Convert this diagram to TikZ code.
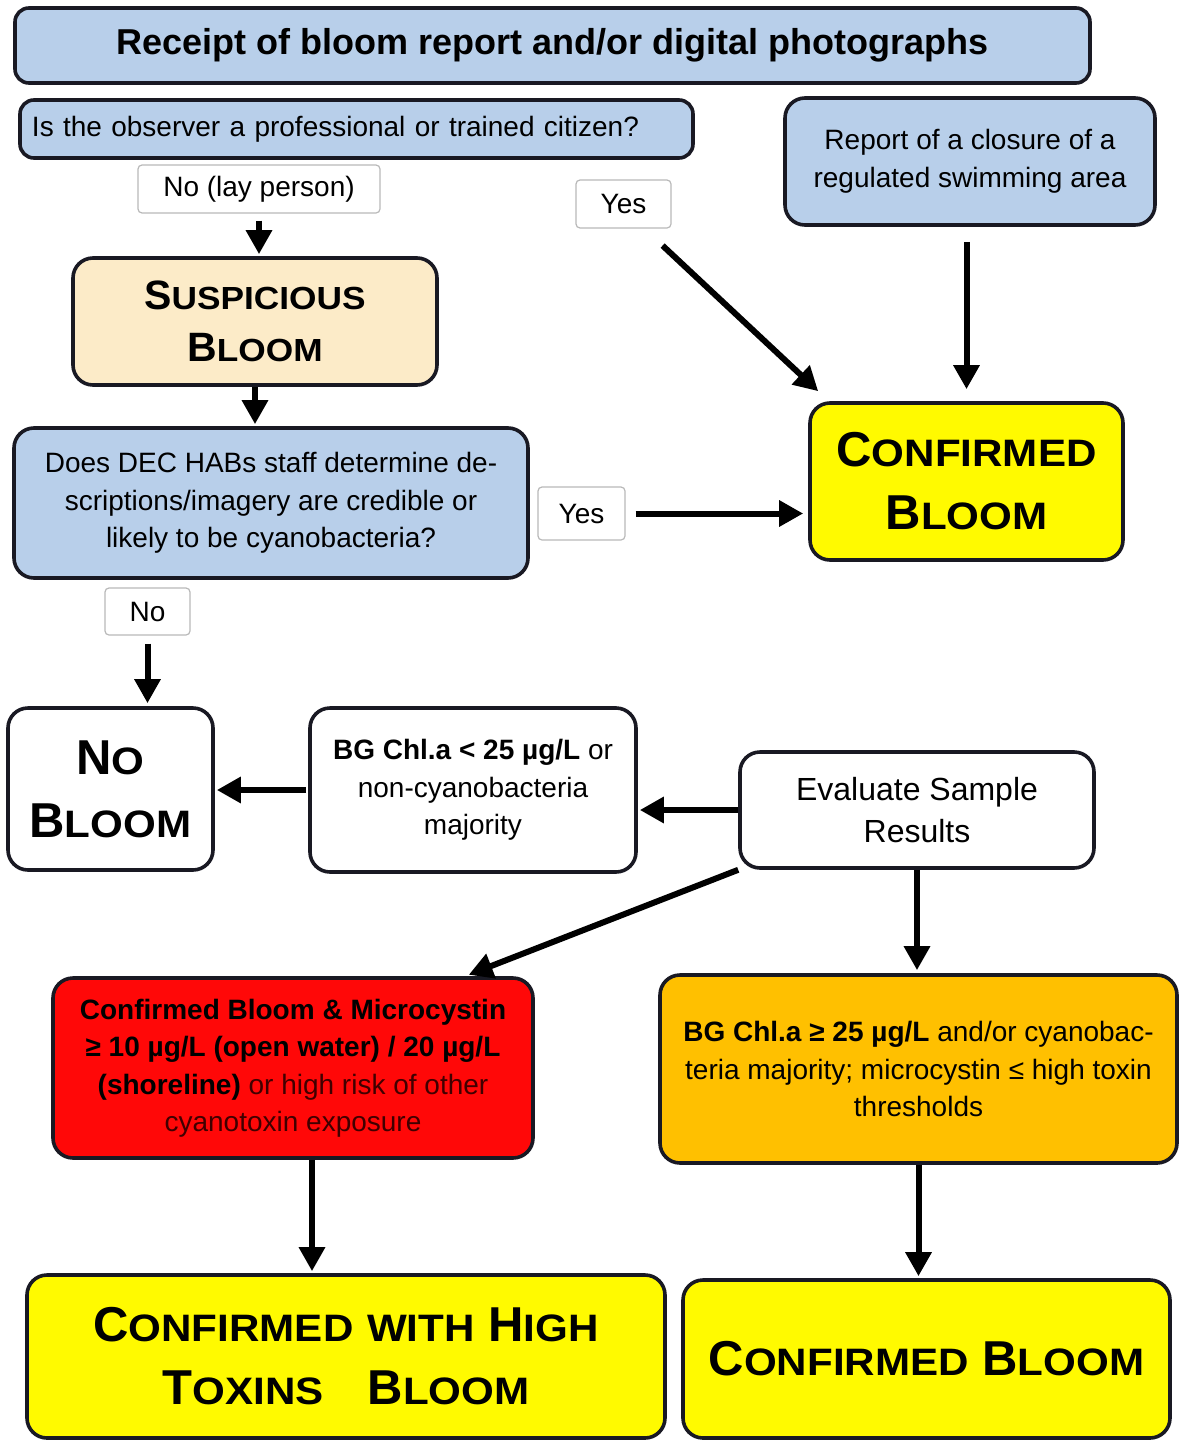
\documentclass[tikz,border=0pt]{standalone}
\usepackage{fontspec}
\setmainfont{Liberation Sans}
\usetikzlibrary{arrows.meta,positioning,calc}
\definecolor{habblue}{RGB}{184,207,234}
\definecolor{habbeige}{RGB}{252,235,200}
\definecolor{habyellow}{RGB}{255,250,0}
\definecolor{haborange}{RGB}{255,192,0}
\definecolor{habred}{RGB}{255,8,8}
\definecolor{habline}{RGB}{25,25,35}
\newcommand\smcap[2]{#1\scalebox{0.86}[0.78]{#2}}
\newcommand\smlow[1]{\scalebox{0.86}[0.78]{#1}}

\begin{document}
\begin{tikzpicture}[x=0.5pt,y=-0.5pt,
      box/.style={draw=habline,line width=1.8pt,rounded corners=10pt,
                  align=center,inner sep=4pt,
                  font=\fontsize{14}{18.75}\selectfont},
      tag/.style={draw=gray!55,line width=0.6pt,rounded corners=2pt,
                  fill=white,align=center,inner sep=2pt,
                  font=\fontsize{14}{18}\selectfont},
      verdict/.style={box,font=\bfseries\fontsize{24.5}{31.5}\selectfont},
      arrow/.style={-{Triangle[length=12pt,width=12.5pt]},line width=3pt},
    ]
    \useasboundingbox (0,0) rectangle (1180,1440);

    % Intake
    \node[box,fill=habblue,rounded corners=7pt,minimum width=537.5pt,
          minimum height=37.5pt,font=\bfseries\fontsize{18}{22}\selectfont]
      (receipt) at (552.5,45.5)
      {Receipt of bloom report and/or digital photographs};
    \node[box,fill=habblue,rounded corners=7pt,minimum height=29pt,
          text width=324.5pt,align=left,inner sep=6pt]
      (observer) at (356.5,129)
      {Is the observer a professional or trained citizen?};
    \node[box,fill=habblue,minimum width=185pt,minimum height=63.5pt]
      (closure) at (970,161.5)
      {Report of a closure of a\\regulated swimming area};

    % Answer tags
    \node[tag,minimum width=121pt,minimum height=24pt] (noLay) at (259,189)
      {No (lay person)};
    \node[tag,minimum width=47.5pt,minimum height=24pt] (yesTop) at (623.5,204)
      {Yes};
    \node[tag,minimum width=43.5pt,minimum height=26.5pt] (yesMid) at (581.5,513.5)
      {Yes};
    \node[tag,minimum width=42.5pt,minimum height=23.5pt] (noLbl) at (147.5,611.5)
      {No};

    % Screening
    \node[verdict,fill=habbeige,minimum width=182pt,minimum height=63.5pt,
          font=\bfseries\fontsize{20.5}{26}\selectfont]
      (susp) at (255,321.5) {\smcap{S}{USPICIOUS}\\\smcap{B}{LOOM}};
    \node[box,fill=habblue,minimum width=257pt,minimum height=75pt]
      (dec) at (271,503)
      {Does DEC HABs staff determine de-\\scriptions/imagery are credible or\\likely to be cyanobacteria?};
    \node[verdict,fill=habyellow,minimum width=156.5pt,minimum height=78.5pt]
      (confTop) at (966.5,481.5) {\smcap{C}{ONFIRMED}\\\smcap{B}{LOOM}};

    % Sampling
    \node[verdict,fill=white,minimum width=102.5pt,minimum height=81pt]
      (noBloom) at (110.5,789) {\smcap{N}{O}\\\smcap{B}{LOOM}};
    \node[box,fill=white,minimum width=163pt,minimum height=82pt]
      (bgLow) at (473,790)
      {\textbf{BG Chl.a < 25 µg/L} or\\non-cyanobacteria\\majority};
    \node[box,fill=white,minimum width=177pt,minimum height=58pt,
          font=\fontsize{16}{21}\selectfont]
      (evalRes) at (917,810) {Evaluate Sample\\Results};
    \node[box,fill=habred,minimum width=240pt,minimum height=90pt]
      (red) at (293,1068)
      {\textbf{Confirmed Bloom \& Microcystin}\\
       \textbf{≥ 10 µg/L (open water) / 20 µg/L}\\
       \textbf{(shoreline)} \textcolor{red!25!black}{or high risk of other}\\
       \textcolor{red!25!black}{cyanotoxin exposure}};
    \node[box,fill=haborange,minimum width=258.5pt,minimum height=94pt]
      (orange) at (918.5,1069)
      {\textbf{BG Chl.a ≥ 25 µg/L} and/or cyanobac-\\
       teria majority; microcystin ≤ high toxin\\thresholds};

    % Outcomes
    \node[verdict,fill=habyellow,minimum width=319pt,minimum height=81.5pt]
      (highTox) at (346,1356.5)
      {\smcap{C}{ONFIRMED} \smlow{WITH} \smcap{H}{IGH}\\
       \smcap{T}{OXINS}\hspace{0.9em}\smcap{B}{LOOM}};
    \node[verdict,fill=habyellow,minimum width=243.5pt,minimum height=79pt]
      (confBot) at (926.5,1359) {\smcap{C}{ONFIRMED} \smcap{B}{LOOM}};

    % Arrows
    \draw[arrow,shorten <=3.5pt,shorten >=1pt] (noLay.south) -- (noLay.south |- susp.north);
    \draw[arrow,shorten >=1pt] (susp.south) -- (susp.south |- dec.north);
    \draw[arrow] ([xshift=-4.5pt,yshift=-8.5pt]yesTop.south east)
      -- ([xshift=5pt,yshift=5pt]confTop.north west);
    \draw[arrow,shorten <=7.5pt,shorten >=6pt] (confTop.north |- closure.south) -- (confTop.north);
    \draw[arrow,shorten <=5pt,shorten >=2.5pt] (yesMid.east) -- (yesMid.east -| confTop.west);
    \draw[arrow,shorten <=4pt,shorten >=1.5pt] (noLbl.south) -- (noLbl.south |- noBloom.north);
    \draw[arrow,shorten <=1pt,shorten >=1pt] (bgLow.west) -- (bgLow.west -| noBloom.east);
    \draw[arrow,shorten >=1pt] (evalRes.west) -- (evalRes.west -| bgLow.east);
    \draw[arrow,shorten >=2pt] (evalRes.south west) -- ([xshift=86pt]red.north);
    \draw[arrow,shorten >=1.5pt] (evalRes.south) -- (evalRes.south |- orange.north);
    \draw[arrow,shorten >=1pt] ([xshift=9.5pt]red.south) -- ([xshift=9.5pt]red.south |- highTox.north);
    \draw[arrow,shorten >=1pt] (orange.south) -- (orange.south |- confBot.north);

  \end{tikzpicture}
\end{document}
